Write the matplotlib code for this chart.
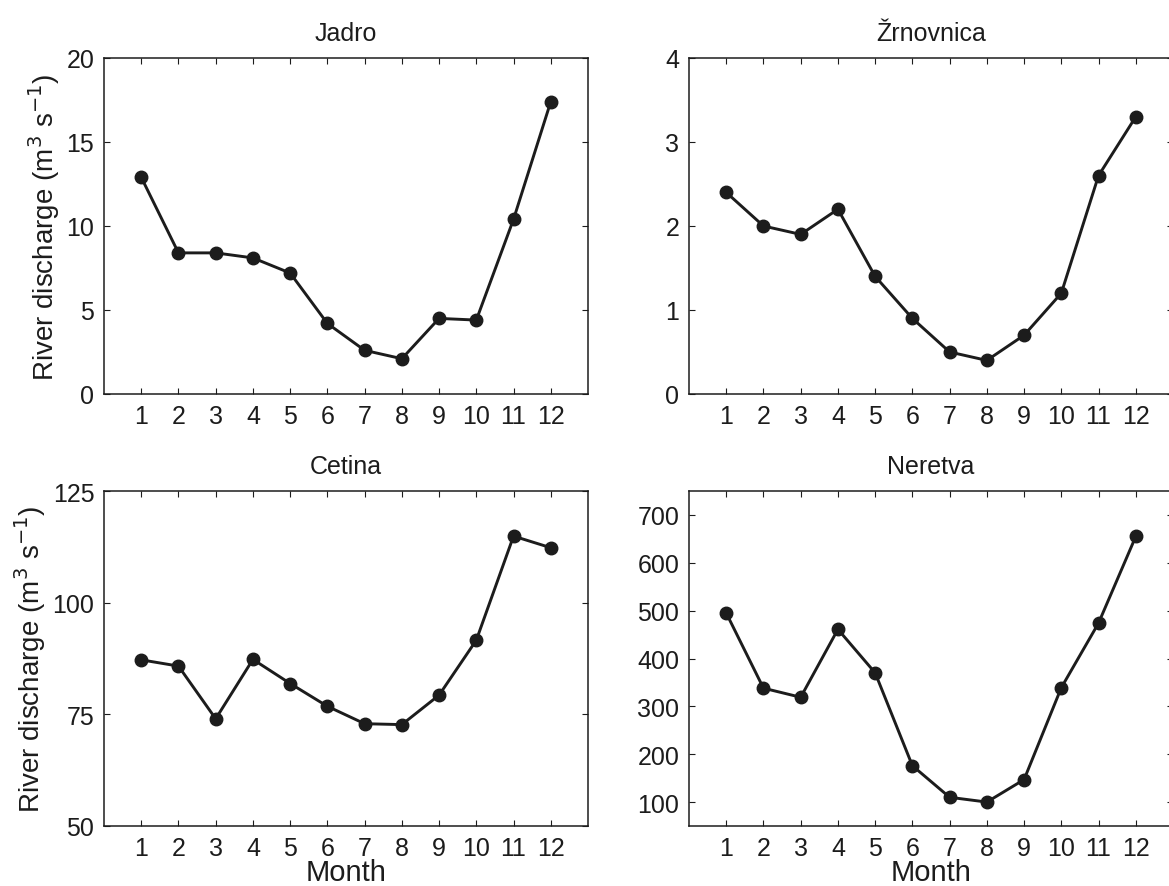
import matplotlib
matplotlib.use("Agg")
import matplotlib.pyplot as plt

# monthly mean discharge
months = list(range(1, 13))
jadro = [12.9, 8.4, 8.4, 8.1, 7.2, 4.2, 2.6, 2.1, 4.5, 4.4, 10.4, 17.4]
zrnovnica = [2.4, 2.0, 1.9, 2.2, 1.4, 0.9, 0.5, 0.4, 0.7, 1.2, 2.6, 3.3]
cetina = [87.2, 85.8, 74.0, 87.3, 81.9, 76.8, 72.9, 72.7, 79.3, 91.6, 114.9, 112.3]
neretva = [495, 338, 319, 461, 370, 176, 110, 100, 147, 339, 474, 655]

titles = ["Jadro", "Žrnovnica", "Cetina", "Neretva"]
series = [jadro, zrnovnica, cetina, neretva]
ylims = [(0, 20), (0, 4), (50, 125), (50, 750)]
yticks = [[0, 5, 10, 15, 20], [0, 1, 2, 3, 4], [50, 75, 100, 125],
          [100, 200, 300, 400, 500, 600, 700]]

plt.rcParams['font.family'] = ['Liberation Sans', 'DejaVu Sans']
W, H = 1169, 887
fig = plt.figure(figsize=(W / 100, H / 100), dpi=100)

# axes boxes in pixels: left, top, right, bottom
boxes = [(104, 59, 588, 395), (689, 59, 1173, 395),
         (104, 492, 588, 827), (689, 492, 1173, 827)]

ink = '#1c1c1c'
for i, (l, t, r, b) in enumerate(boxes):
    ax = fig.add_axes([l / W, 1 - b / H, (r - l) / W, (b - t) / H])
    ax.plot(months, series[i], '-o', color=ink, lw=2.1, ms=9)
    ax.set_xlim(0, 13)
    ax.set_ylim(*ylims[i])
    ax.set_xticks(months)
    ax.set_yticks(yticks[i])
    ax.tick_params(direction='in', top=True, right=True, length=4,
                   width=0.8, labelsize=18, pad=7, colors=ink)
    for sp in ax.spines.values():
        sp.set_linewidth(1.1)
        sp.set_color(ink)
    ax.set_title(titles[i], fontsize=18, pad=13, color=ink)
    if i % 2 == 0:
        ax.set_ylabel('River discharge (m$^3$ s$^{-1}$)', fontsize=20,
                      labelpad=3, color=ink)
    if i >= 2:
        ax.set_xlabel('Month', fontsize=21, labelpad=-1, color=ink)

fig.savefig('out.png', dpi=100)
